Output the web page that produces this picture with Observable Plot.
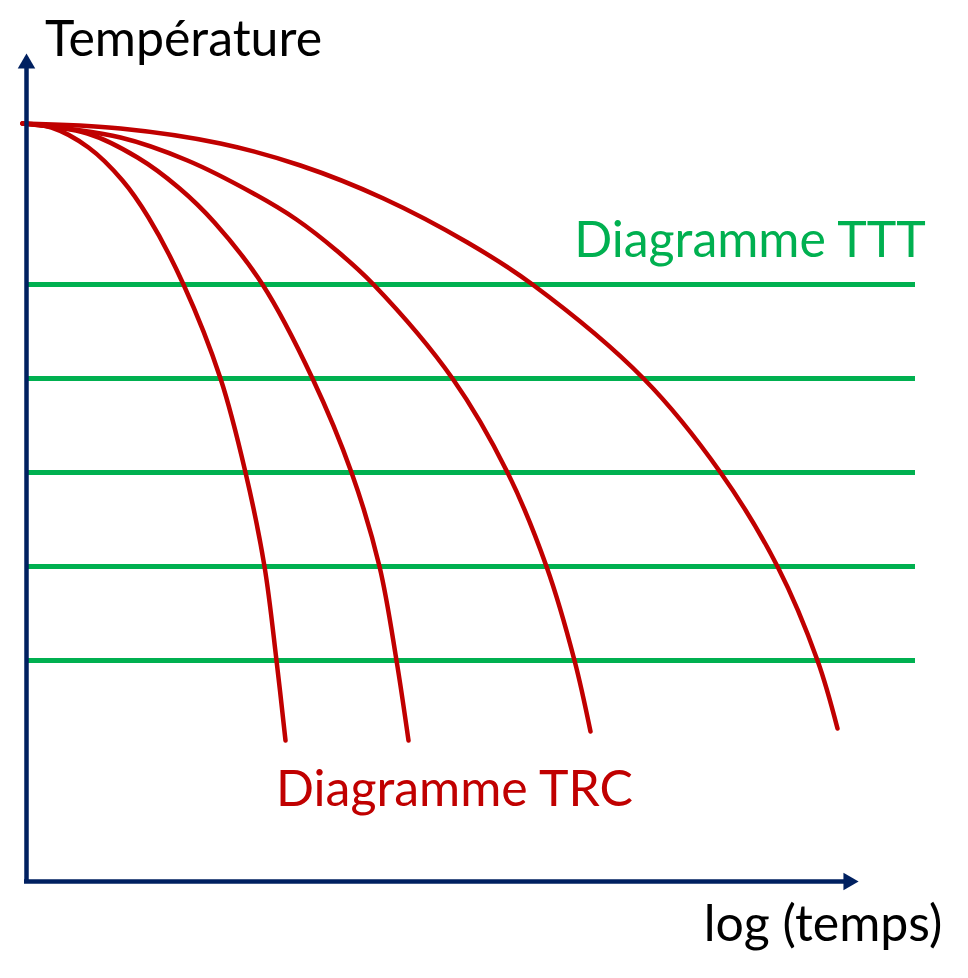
<!DOCTYPE html>
<html>
<head>
<meta charset="utf-8">
<script src="https://cdn.jsdelivr.net/npm/d3@7"></script>
<script src="https://cdn.jsdelivr.net/npm/@observablehq/plot@0.6"></script>
<style>
  html, body { margin: 0; padding: 0; background: #ffffff; }
  #chart svg { display: block; }
</style>
</head>
<body>
<div id="chart"></div>
<script>
// Axis labels and annotations
const yAxisLabel = "Température";
const xAxisLabel = "log (temps)";
const tttLabel = "Diagramme TTT";
const trcLabel = "Diagramme TRC";

// Horizontal isothermal lines (TTT), temperature units of the schematic
const tttTemps = [597, 503, 409, 315, 221];
const tttStart = -1;
const tttEnd = 889;

// Continuous cooling curves (TRC): log(time) and temperature samples
const trc1Time = [-4, 25, 62, 96, 122, 157, 194, 219, 238, 250, 259];
const trc1Temp = [758, 754, 734, 701, 664, 597, 503, 409, 315, 221, 141];

const trc2Time = [-4, 61, 111, 152, 188, 236, 286, 325, 353, 370, 382];
const trc2Temp = [758, 748, 724, 694, 659, 597, 503, 409, 315, 221, 141];

const trc3Time = [-4, 94, 161, 227, 270, 310, 347, 426, 481, 520, 548, 564];
const trc3Temp = [758, 744, 721, 688, 662, 631, 597, 503, 409, 315, 221, 150];

const trc4Time = [-4, 94, 194, 274, 357, 441, 506, 617, 694, 751, 791, 811];
const trc4Temp = [758, 753, 738, 716, 683, 639, 597, 503, 409, 315, 221, 153];

// Axis extents (arrow tips)
const xAxisEnd = 832;
const yAxisEnd = 828;

const RED = "#C00000";
const GREEN = "#00B050";
const NAVY = "#002060";
const FONT = "Lato, 'Open Sans', sans-serif";

const curves = [
  [trc1Time, trc1Temp],
  [trc2Time, trc2Temp],
  [trc3Time, trc3Temp],
  [trc4Time, trc4Temp]
].map(([t, T], k) => t.map((x, i) => ({curve: k, x, y: T[i]}))).flat();

const chart = Plot.plot({
  width: 968,
  height: 978,
  margin: 0,
  style: {background: "#ffffff", fontFamily: FONT},
  x: {domain: [-26, 942], axis: null},
  y: {domain: [-97, 881], axis: null},
  marks: [
    // green TTT isotherms
    Plot.ruleY(tttTemps, {y: d => d, x1: () => tttStart, x2: () => tttEnd, stroke: GREEN, strokeWidth: 5}),
    // red TRC cooling curves
    Plot.line(curves, {x: "x", y: "y", z: "curve", stroke: RED, strokeWidth: 4.5, curve: "catmull-rom"}),
    // axes
    Plot.ruleX([0], {y1: () => -2, y2: () => yAxisEnd - 12, stroke: NAVY, strokeWidth: 4.5}),
    Plot.ruleY([0], {x1: () => -2, x2: () => xAxisEnd - 12, stroke: NAVY, strokeWidth: 4.5}),
    // arrow heads
    Plot.dot([{x: 0, y: yAxisEnd - 10}], {x: "x", y: "y", symbol: "triangle", r: 6.5, fill: NAVY, stroke: "none"}),
    Plot.dot([{x: xAxisEnd - 10, y: 0}], {x: "x", y: "y", symbol: "triangle", r: 6.5, rotate: 90, fill: NAVY, stroke: "none"}),
    // labels
    Plot.text([yAxisLabel], {x: () => 157, y: () => 826, text: d => d, textAnchor: "middle", lineAnchor: "bottom", fontSize: 50, fill: "#000000", fontFamily: FONT}),
    Plot.text([xAxisLabel], {x: () => 796.5, y: () => -59, text: d => d, textAnchor: "middle", lineAnchor: "bottom", fontSize: 50, fill: "#000000", fontFamily: FONT}),
    Plot.text([tttLabel], {x: () => 723.5, y: () => 625, text: d => d, textAnchor: "middle", lineAnchor: "bottom", fontSize: 50, fill: GREEN, fontFamily: FONT}),
    Plot.text([trcLabel], {x: () => 428, y: () => 76, text: d => d, textAnchor: "middle", lineAnchor: "bottom", fontSize: 50, fill: RED, fontFamily: FONT})
  ]
});

document.getElementById("chart").appendChild(chart);
</script>
</body>
</html>
